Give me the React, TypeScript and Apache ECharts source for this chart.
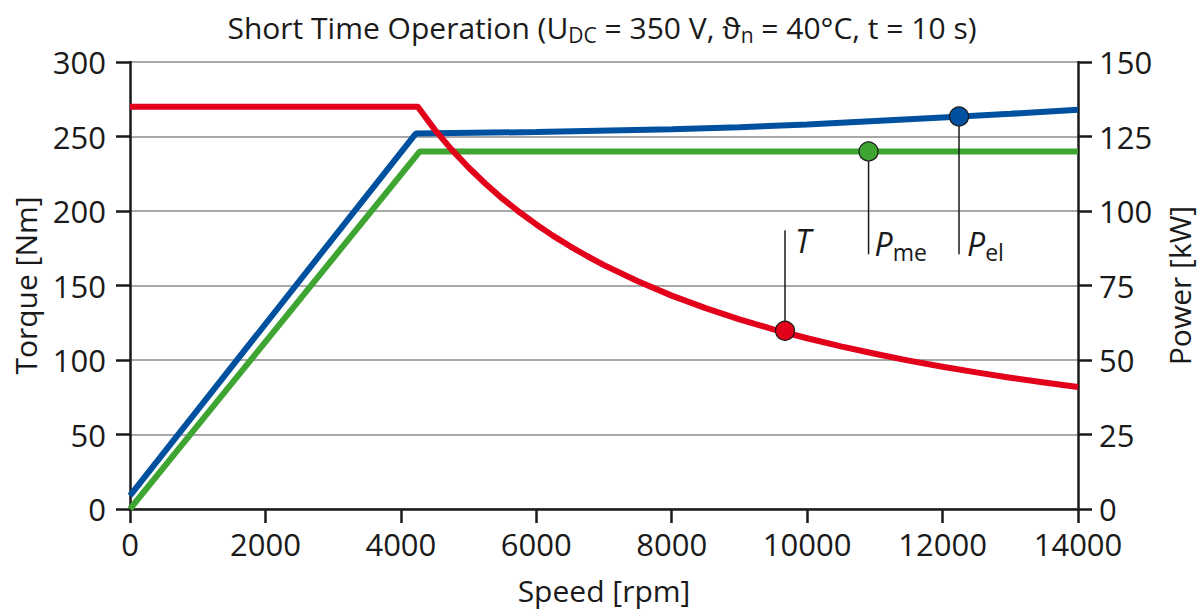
import React, { useEffect, useRef } from "react";
import * as echarts from "echarts";

// Speed [rpm] vs torque [Nm]
const torqueCurve: [number, number][] = [
  [0, 270], [4250, 270], [4500, 254.6], [4750, 241.2], [5000, 229.2], [5250, 218.3],
  [5500, 208.3], [5750, 199.3], [6000, 191], [6250, 183.3], [6500, 176.3],
  [6750, 169.8], [7000, 163.7], [7500, 152.8], [8000, 143.2], [8500, 134.8],
  [9000, 127.3], [9500, 120.6], [10000, 114.6], [10500, 109.1], [11000, 104.2],
  [11500, 99.6], [12000, 95.5], [12500, 91.7], [13000, 88.1], [13500, 84.9], [14000, 81.9],
];
// Speed [rpm] vs mechanical power [kW]
const pMechCurve: [number, number][] = [[0, 0], [4280, 120], [14000, 120]];
// Speed [rpm] vs electrical power [kW]
const pElCurve: [number, number][] = [
  [0, 4.5], [4220, 126], [6000, 126.5], [8000, 127.4], [9000, 128.1],
  [10000, 129], [11000, 130.2], [12000, 131.4], [13000, 132.6], [14000, 134],
];
// marker points
const torqueMarker: [number, number] = [9673, 119.6];
const pMechMarker: [number, number] = [10907, 120];
const pElMarker: [number, number] = [12243, 131.7];
// leader line ends
const torqueLeaderEnd = 187; // Nm
const pMechLeaderEnd = 85.5; // kW
const pElLeaderEnd = 85.5; // kW

const xTicks = { min: 0, max: 14000, interval: 2000 };
const torqueTicks = { min: 0, max: 300, interval: 50 };
const powerTicks = { min: 0, max: 150, interval: 25 };

const RED = "#e2001a";
const BLUE = "#0050a0";
const GREEN = "#3ea532";
const FONT = "'Open Sans', 'Noto Sans', sans-serif";

export default function App() {
  const ref = useRef<HTMLDivElement>(null);
  useEffect(() => {
    const chart = echarts.init(ref.current!, undefined, { renderer: "svg" });
    const axisLabel = { color: "#1a1a1a", fontSize: 31, fontFamily: FONT, lineHeight: 30 };
    const axisLine = { show: true, lineStyle: { color: "#1a1a1a", width: 2.5 } };
    const axisTick = { show: true, length: 14, lineStyle: { color: "#1a1a1a", width: 2.5 } };
    const leader = (data: [number, number][], yAxisIndex: number) => ({
      type: "line",
      yAxisIndex,
      data,
      symbol: "none",
      lineStyle: { color: "#1a1a1a", width: 1.5 },
      z: 4,
      silent: true,
    });
    const marker = (pt: [number, number], color: string, yAxisIndex: number) => ({
      type: "scatter",
      yAxisIndex,
      data: [pt],
      symbolSize: 19,
      itemStyle: { color, borderColor: "#1a1a1a", borderWidth: 1.2, opacity: 1 },
      z: 6,
      silent: true,
    });
    chart.setOption({
      animation: false,
      grid: { left: 130, width: 948, top: 62, height: 454, containLabel: false },
      title: {
        left: "center",
        top: 5,
        text: "Short Time Operation (U{sub|DC} = 350 V, ϑ{sub|n} = 40°C, t = 10 s)",
        textStyle: {
          fontFamily: FONT,
          fontSize: 30,
          fontWeight: "normal",
          color: "#1a1a1a",
          rich: {
            sub: {
              fontFamily: FONT,
              fontSize: 21,
              color: "#1a1a1a",
              verticalAlign: "bottom",
              padding: [14, 0, 0, 0],
            },
          },
        },
      },
      xAxis: {
        type: "value",
        ...xTicks,
        name: "Speed [rpm]",
        nameLocation: "middle",
        nameGap: 66,
        nameTextStyle: { fontSize: 30, fontFamily: FONT, color: "#1a1a1a" },
        axisLine,
        axisTick,
        axisLabel: { ...axisLabel, margin: 20, formatter: (v: number) => String(v) },
        splitLine: { show: false },
      },
      yAxis: [
        {
          type: "value",
          ...torqueTicks,
          name: "Torque [Nm]",
          nameLocation: "middle",
          nameGap: 90,
          nameTextStyle: { fontSize: 30, fontFamily: FONT, color: "#1a1a1a" },
          axisLine,
          axisTick,
          axisLabel: { ...axisLabel, margin: 24 },
          splitLine: { show: true, lineStyle: { color: "#a8a8a8", width: 2 } },
        },
        {
          type: "value",
          position: "right",
          ...powerTicks,
          name: "Power [kW]",
          nameLocation: "middle",
          nameGap: 86,
          nameRotate: 90,
          nameTextStyle: { fontSize: 30, fontFamily: FONT, color: "#1a1a1a" },
          axisLine,
          axisTick,
          axisLabel: { ...axisLabel, margin: 21 },
          splitLine: { show: false },
        },
      ],
      series: [
        {
          type: "line", yAxisIndex: 1, data: pElCurve, symbol: "none",
          lineStyle: { color: BLUE, width: 6 }, z: 3, silent: true,
        },
        {
          type: "line", yAxisIndex: 1, data: pMechCurve, symbol: "none",
          lineStyle: { color: GREEN, width: 6 }, z: 3, silent: true,
        },
        {
          type: "line", yAxisIndex: 0, data: torqueCurve, symbol: "none",
          lineStyle: { color: RED, width: 6, join: "round" }, z: 3, silent: true,
        },
        leader([torqueMarker, [torqueMarker[0], torqueLeaderEnd]], 0),
        leader([pMechMarker, [pMechMarker[0], pMechLeaderEnd]], 1),
        leader([pElMarker, [pElMarker[0], pElLeaderEnd]], 1),
        marker(torqueMarker, RED, 0),
        marker(pMechMarker, GREEN, 1),
        marker(pElMarker, BLUE, 1),
      ],
    });

    const tPos = chart.convertToPixel({ xAxisIndex: 0, yAxisIndex: 0 }, [torqueMarker[0], torqueLeaderEnd]);
    const mPos = chart.convertToPixel({ xAxisIndex: 0, yAxisIndex: 1 }, [pMechMarker[0], pMechLeaderEnd]);
    const ePos = chart.convertToPixel({ xAxisIndex: 0, yAxisIndex: 1 }, [pElMarker[0], pElLeaderEnd]);
    const rich = {
      i: { fontFamily: FONT, fontStyle: "italic", fontSize: 32, color: "#1a1a1a" },
      s: { fontFamily: FONT, fontSize: 23, color: "#1a1a1a", verticalAlign: "bottom", padding: [16, 0, 0, 0] },
    };
    const label = (x: number, y: number, text: string) => ({
      type: "text",
      x,
      y,
      z: 10,
      style: { text, rich, verticalAlign: "top", fill: "#1a1a1a" },
    });
    chart.setOption({
      graphic: [
        label(tPos[0] + 10, tPos[1] - 6, "{i|T}"),
        label(mPos[0] + 6, mPos[1] - 30, "{i|P}{s|me}"),
        label(ePos[0] + 8, ePos[1] - 30, "{i|P}{s|el}"),
      ],
    });
    return () => chart.dispose();
  }, []);
  return (
    <div
      ref={ref}
      style={{ position: "absolute", left: 0, top: 0, width: 1204, height: 610, background: "#fff" }}
    />
  );
}
